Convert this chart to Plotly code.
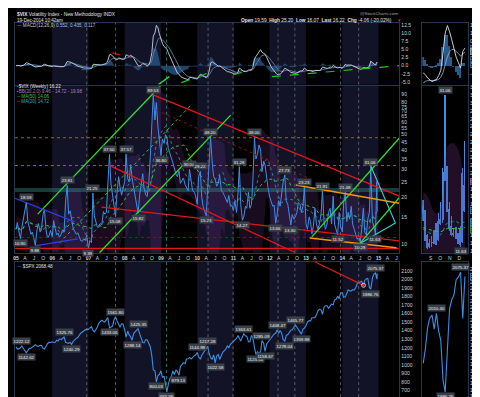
import numpy as np
import pandas as pd
import plotly.graph_objects as go

W, H = 480, 397

# ----------------------------- DATA -----------------------------
# $VIX (weekly bars) read at semi-monthly steps: 1st and 15th of each month
vix_2005 = [12.5, 13.8, 12.0, 10.90, 12.8, 14.2, 17.0, 18.59, 14.0, 12.6, 11.6, 12.0,
            11.0, 9.88, 12.4, 13.6, 12.0, 12.6, 15.6, 16.8, 12.2, 11.0, 11.4, 12.3]
vix_2006 = [11.2, 14.2, 12.6, 11.5, 11.8, 11.1, 11.6, 12.4, 12.0, 18.6, 23.81, 15.6,
            16.4, 14.2, 12.6, 12.2, 11.6, 11.9, 11.3, 10.6, 10.5, 10.9, 10.6, 11.5]
vix_2007 = [9.39, 10.6, 10.3, 21.25, 15.2, 14.0, 12.9, 13.1, 13.6, 13.3, 16.2, 15.6,
            16.0, 24.2, 37.50, 24.6, 20.2, 18.6, 15.08, 21.0, 27.0, 23.2, 20.6, 22.6]
vix_2008 = [25.2, 37.57, 26.2, 25.0, 32.2, 26.6, 22.6, 20.2, 17.2, 15.82, 21.0, 24.2,
            28.2, 22.6, 20.6, 20.2, 25.2, 36.2, 55.0, 89.53, 62.0, 80.0, 56.0, 44.0]
vix_2009 = [36.80, 47.0, 44.0, 50.0, 48.0, 41.0, 37.0, 35.5, 33.0, 30.0, 28.0, 27.0,
            29.5, 24.5, 25.5, 26.5, 24.0, 23.0, 22.0, 30.04, 24.0, 22.0, 21.5, 20.5]
vix_2010 = [18.0, 27.0, 29.22, 20.0, 17.5, 16.5, 15.23, 22.0, 35.0, 48.20, 33.0, 27.0,
            26.0, 23.5, 24.5, 27.5, 22.0, 21.5, 20.5, 19.5, 18.5, 20.5, 17.5, 17.8]
vix_2011 = [16.5, 19.0, 16.0, 21.0, 31.28, 18.0, 14.27, 15.0, 17.5, 17.0, 21.5, 17.0,
            18.0, 25.0, 48.00, 35.0, 38.0, 43.0, 40.0, 29.0, 34.0, 32.0, 26.0, 23.0]
vix_2012 = [20.0, 18.5, 17.5, 17.8, 13.66, 15.5, 19.0, 17.5, 22.0, 25.0, 27.73, 19.0,
            18.0, 16.0, 13.30, 15.5, 14.5, 15.0, 16.0, 18.5, 18.0, 16.0, 17.5, 23.23]
vix_2013 = [13.5, 12.5, 15.0, 14.0, 11.7, 13.0, 17.0, 13.5, 12.5, 13.5, 15.5, 21.91,
            14.0, 12.5, 13.5, 16.0, 17.0, 13.5, 20.3, 13.5, 12.5, 11.52, 16.0, 13.0]
vix_2014 = [12.0, 18.5, 21.48, 14.0, 16.0, 14.5, 17.5, 13.5, 12.5, 11.5, 10.8, 11.5,
            10.28, 12.5, 17.0, 12.0, 11.5, 14.5, 16.0, 31.06, 14.0, 13.0, 11.63, 25.20]
vix_last = 16.22

# $SPX weekly closes read at the same semi-monthly steps
spx_2005 = [1211.9, 1185.0, 1190.0, 1200.0, 1222.12, 1190.0, 1165.0, 1142.62, 1170.0, 1193.0, 1195.0, 1210.0,
            1225.0, 1235.0, 1220.0, 1215.0, 1230.0, 1227.0, 1195.0, 1186.0, 1220.0, 1250.0, 1265.0, 1260.0]
spx_2006 = [1270.0, 1262.0, 1265.0, 1288.0, 1280.0, 1305.0, 1297.0, 1311.0, 1325.76, 1265.0, 1255.0, 1251.0,
            1265.0, 1240.29, 1275.0, 1295.0, 1310.0, 1320.0, 1350.0, 1370.0, 1385.0, 1400.0, 1410.0, 1418.0]
spx_2007 = [1415.0, 1432.0, 1448.0, 1406.0, 1386.95, 1410.0, 1444.0, 1490.0, 1505.0, 1522.0, 1507.0, 1502.0,
            1530.0, 1553.0, 1433.06, 1445.94, 1454.0, 1525.0, 1561.80, 1520.0, 1480.0, 1440.0, 1481.0, 1478.0]
spx_2008 = [1411.0, 1325.0, 1395.0, 1350.0, 1330.0, 1288.14, 1370.0, 1390.0, 1413.0, 1425.35, 1360.0, 1318.0,
            1262.0, 1257.0, 1296.0, 1292.0, 1252.0, 1213.0, 1099.0, 940.0, 930.0, 800.03, 876.0, 887.0]
spx_2009 = [931.0, 850.0, 869.0, 770.0, 683.38, 768.0, 842.0, 866.0, 929.0, 887.0, 940.0, 921.0,
            879.13, 980.0, 1010.0, 1026.0, 1016.0, 1068.0, 1071.0, 1087.0, 1069.0, 1092.0, 1106.0, 1115.0]
spx_2010 = [1144.98, 1091.0, 1066.0, 1109.0, 1138.0, 1166.0, 1194.0, 1217.28, 1135.0, 1087.0, 1065.0, 1117.0,
            1022.58, 1102.0, 1121.0, 1064.0, 1110.0, 1148.0, 1166.0, 1183.0, 1225.0, 1199.0, 1240.0, 1257.0]
spx_2011 = [1271.0, 1286.0, 1310.0, 1343.0, 1304.0, 1279.0, 1328.0, 1363.61, 1340.0, 1333.0, 1271.0, 1268.0,
            1344.0, 1316.0, 1199.0, 1123.53, 1154.0, 1136.0, 1155.0, 1285.09, 1253.0, 1158.67, 1244.0, 1265.0]
spx_2012 = [1289.0, 1315.0, 1345.0, 1361.0, 1370.0, 1408.47, 1370.0, 1403.0, 1369.0, 1295.0, 1278.04, 1342.0,
            1355.0, 1386.0, 1405.0, 1411.0, 1438.0, 1465.77, 1440.0, 1412.0, 1380.0, 1359.88, 1418.0, 1430.0]
spx_2013 = [1461.0, 1502.0, 1518.0, 1515.0, 1551.0, 1556.0, 1553.0, 1582.0, 1633.0, 1650.0, 1643.0, 1592.0,
            1675.0, 1691.0, 1691.0, 1663.0, 1688.0, 1710.0, 1703.0, 1759.0, 1770.0, 1804.0, 1775.0, 1841.0]
spx_2014 = [1842.0, 1790.0, 1796.0, 1836.0, 1878.0, 1866.0, 1864.0, 1878.0, 1878.0, 1900.0, 1950.0, 1962.0,
            1968.0, 1978.0, 1925.0, 1988.0, 2007.0, 2010.40, 1906.0, 1886.76, 2018.0, 2063.0, 2075.37, 2002.33]
spx_last = 2068.48

semi_monthly = pd.date_range("2005-01-01", "2014-12-15", freq="SMS")
last_date = pd.Timestamp("2014-12-19")

# zoom panel: last 20 weekly bars (Aug 8 - Dec 19, 2014)
zoom_weeks = pd.date_range("2014-08-08", "2014-12-19", freq="W-FRI")
zoom_vix_open = [16.9, 15.7, 13.1, 11.6, 12.1, 12.3, 13.6, 12.5, 15.2, 15.0,
                 21.3, 21.9, 16.5, 14.3, 13.2, 13.4, 12.8, 14.0, 12.2, 19.59]
zoom_vix_high = [17.57, 16.3, 13.2, 12.6, 13.0, 13.8, 14.6, 16.0, 17.3, 21.7,
                 31.06, 22.0, 17.3, 15.5, 14.0, 14.1, 13.3, 14.3, 21.7, 25.20]
zoom_vix_low = [14.9, 12.4, 11.3, 11.4, 11.6, 11.9, 11.8, 12.3, 14.4, 14.6,
                20.0, 16.1, 13.6, 13.0, 12.8, 12.6, 11.9, 11.63, 12.1, 16.07]
zoom_vix_close = [15.77, 13.15, 11.47, 12.09, 12.09, 13.31, 12.11, 14.85, 14.55, 21.24,
                  21.99, 16.11, 14.03, 13.12, 13.31, 12.90, 13.33, 11.82, 21.08, 16.22]
zoom_ma50 = [14.0, 13.9, 13.8, 13.7, 13.6, 13.5, 13.5, 13.5, 13.5, 13.6,
             13.8, 13.9, 13.9, 13.9, 13.9, 13.9, 13.9, 13.9, 14.0, 14.06]
zoom_ma20 = [13.8, 13.7, 13.5, 13.3, 13.2, 13.1, 13.0, 13.0, 13.1, 13.5,
             14.3, 14.6, 14.7, 14.8, 14.8, 14.8, 14.7, 14.5, 14.7, 14.72]
zoom_bb_up = [18.5, 18.4, 18.0, 17.5, 16.5, 16.0, 15.8, 16.0, 16.5, 18.5,
              23.0, 24.5, 24.8, 24.9, 24.9, 24.5, 24.0, 23.0, 21.5, 19.98]
zoom_bb_lo = [10.0, 9.8, 9.5, 9.5, 9.6, 9.8, 10.0, 10.2, 10.2, 9.5,
              8.0, 7.5, 7.3, 7.3, 7.3, 7.5, 7.8, 8.5, 9.0, 9.46]
zoom_spx = [1931.59, 1955.06, 1988.40, 2003.37, 2007.71, 1985.54, 2010.40, 1982.85, 1967.90, 1906.13,
            1886.76, 1964.58, 2018.05, 2031.92, 2039.82, 2063.50, 2067.56, 2075.37, 2002.33, 2068.48]
zoom_macd = [-0.20, -0.25, -0.35, -0.42, -0.46, -0.42, -0.40, -0.28, -0.12, 0.40,
             1.00, 1.23, 1.05, 0.80, 0.50, 0.28, 0.12, -0.05, 0.45, 0.552]
zoom_signal = [-0.50, -0.45, -0.43, -0.43, -0.44, -0.43, -0.42, -0.39, -0.33, -0.19,
               0.05, 0.29, 0.44, 0.51, 0.51, 0.46, 0.39, 0.31, 0.36, 0.435]

# labelled highs / lows (date, above?)
vix_marks = [("2005-02-15", False), ("2005-04-15", True), ("2005-07-15", False), ("2006-06-01", True),
             ("2007-01-01", False), ("2007-02-15", True), ("2007-08-01", True), ("2007-10-01", False),
             ("2008-01-15", True), ("2008-05-15", False), ("2008-10-15", True), ("2009-01-01", False),
             ("2009-10-15", True), ("2010-02-01", True), ("2010-04-01", False), ("2010-05-15", True),
             ("2011-03-01", True), ("2011-04-01", False), ("2011-08-01", True), ("2012-03-01", False),
             ("2012-06-01", True), ("2012-08-01", False), ("2012-12-15", True), ("2013-06-15", True),
             ("2013-11-15", False), ("2014-02-01", True), ("2014-07-01", False), ("2014-10-15", True),
             ("2014-12-01", False)]
spx_marks = [("2005-03-01", True), ("2005-04-15", False), ("2006-05-01", True), ("2006-07-15", False),
             ("2007-08-01", False), ("2007-10-01", True), ("2008-03-15", False), ("2008-05-15", True),
             ("2008-11-15", False), ("2009-03-01", False), ("2009-07-01", False), ("2010-01-01", True),
             ("2010-04-15", True), ("2010-07-01", False), ("2011-04-15", True), ("2011-08-15", False),
             ("2011-10-15", True), ("2011-11-15", False), ("2012-03-15", True), ("2012-06-01", False),
             ("2012-09-15", True), ("2012-11-15", False), ("2014-10-15", False), ("2014-12-01", True)]
zoom_vix_marks = [(10, True), (17, False)]          # week index, above?
zoom_spx_marks = [(6, True), (10, False), (17, True)]

# hand-drawn trend lines on the VIX panel (date, value) -> (date, value), style
vix_trends = [
    ("2008-10-15", 89.5, "2015-07-30", 20.3, "red"),
    ("2007-07-31", 31.9, "2012-09-17", 8.86, "red"),
    ("2007-05-13", 17.3, "2015-07-30", 10.56, "red"),
    ("2004-12-22", 9.45, "2015-07-30", 9.45, "red"),
    ("2004-12-22", 11.1, "2015-07-30", 11.1, "reddot"),
    ("2008-11-15", 71.6, "2013-01-29", 26.4, "reddot"),
    ("2004-12-22", 47.8, "2015-07-30", 47.8, "orangedot"),
    ("2004-12-22", 31.8, "2015-07-30", 31.8, "orangedot"),
    ("2005-08-08", 15.6, "2008-12-25", 102.0, "green"),
    ("2006-03-17", 10.25, "2009-11-11", 78.6, "greendot"),
    ("2007-04-22", 8.86, "2010-12-04", 66.6, "green"),
    ("2013-02-28", 11.19, "2015-07-30", 47.6, "green"),
    ("2014-06-24", 10.1, "2015-07-30", 19.9, "green"),
    ("2012-09-20", 23.9, "2015-07-30", 18.28, "orange"),
    ("2013-02-08", 10.99, "2015-06-30", 9.53, "orange"),
    ("2004-12-22", 19.7, "2006-08-15", 13.92, "blue"),
    ("2005-07-10", 9.81, "2006-09-14", 10.86, "blue"),
]
vix_triangle = [("2014-10-12", 31.9), ("2015-06-20", 13.72), ("2014-06-24", 10.1)]
vix_band = (21.6, 22.9)
spx_trend = ("2013-03-28", 2207.0, "2014-08-03", 1931.0)
macd_trends = [
    ("2006-10-22", -1.22, "2007-03-22", -0.91, "bluedash"),
    ("2007-08-22", 3.96, "2008-03-17", 2.44, "reddash"),
    ("2009-07-24", -5.2, "2010-04-30", -2.13, "greendash"),
    ("2010-12-28", -2.74, "2011-06-06", -1.52, "greendash"),
    ("2012-01-22", -3.35, "2015-07-30", 0.0, "greendash"),
    ("2008-12-05", -5.8, "2009-03-25", -3.35, "green"),
]
marker_dates = ["2006-12-15", "2007-10-01", "2009-02-25", "2010-04-20", "2010-12-28",
                "2012-03-25", "2012-09-10", "2013-12-15", "2014-06-15"]
shade_years = [2006, 2008, 2010, 2012, 2014]

main_tick_dates = pd.date_range("2005-01-01", "2015-07-01", freq="QS")
main_tick_text = [f"<b>{d:%y}</b>" if d.month == 1 else "AJO"[(d.month - 4) // 3] for d in main_tick_dates]
zoom_tick_dates = ["2014-09-01", "2014-10-01", "2014-11-01", "2014-12-01"]
zoom_tick_text = ["S", "O", "N", "D"]

# ----------------------------- SERIES -----------------------------
dates = list(semi_monthly) + [last_date]
vix = pd.Series(vix_2005 + vix_2006 + vix_2007 + vix_2008 + vix_2009 + vix_2010 +
                vix_2011 + vix_2012 + vix_2013 + vix_2014 + [vix_last], index=dates)
spx = pd.Series(spx_2005 + spx_2006 + spx_2007 + spx_2008 + spx_2009 + spx_2010 +
                spx_2011 + spx_2012 + spx_2013 + spx_2014 + [spx_last], index=dates)

ma50 = vix.rolling(23, min_periods=1).mean()
ma20 = vix.rolling(10, min_periods=1).mean()
sd20 = vix.rolling(10, min_periods=2).std().bfill()
bb_up = ma20 + 2 * sd20
bb_lo = (ma20 - 2 * sd20).clip(lower=5)
macd = vix.ewm(span=10, adjust=False).mean() - vix.ewm(span=21, adjust=False).mean()
signal = macd.ewm(span=7, adjust=False).mean()
hist = macd - signal
zoom_hist = [m - s for m, s in zip(zoom_macd, zoom_signal)]
zoom_body_base = [min(o, c) for o, c in zip(zoom_vix_open, zoom_vix_close)]
zoom_body_len = [abs(c - o) for o, c in zip(zoom_vix_open, zoom_vix_close)]
zoom_wick_len = [h - l for h, l in zip(zoom_vix_high, zoom_vix_low)]

# ----------------------------- STYLE -----------------------------
FONT = "Liberation Sans"
BORDER = "#243650"
SHADE = "#131328"
BLUE = "#3d8ee6"
TICK = "#cfd3d8"
DAY = 86400000
STY = {
    "red": dict(color="#e3161b", width=1.3),
    "reddot": dict(color="#8a1010", width=1, dash="dot"),
    "orangedot": dict(color="#a8701c", width=0.9, dash="dot"),
    "green": dict(color="#2fe02f", width=1.3),
    "greendot": dict(color="#2fc02f", width=1, dash="dot"),
    "orange": dict(color="#f0960f", width=1.5),
    "blue": dict(color="#2a3fe8", width=1.3),
    "bluedash": dict(color="#2a3fe8", width=1.2, dash="dash"),
    "reddash": dict(color="#c01818", width=1.2, dash="dash"),
    "greendash": dict(color="#22c022", width=1.2, dash="dash"),
}

XMAIN = ["2004-12-22", "2015-07-30"]
XZOOM = ["2014-08-05", "2014-12-29"]
ROWS = {"macd": (14, 76), "vix": (77, 245), "spx": (254, 396)}


def ydom(r):
    top, bot = ROWS[r]
    return [1 - bot / H, 1 - top / H]


fig = go.Figure()


def line(x, y, xa, ya, **kw):
    fig.add_trace(go.Scatter(x=x, y=y, xaxis=xa, yaxis=ya, mode="lines", hoverinfo="skip", **kw))


# ---- main MACD ----
line(dates, hist, "x", "y", line=dict(width=0), fill="tozeroy", fillcolor="rgba(40,80,125,0.85)")
line(dates, signal, "x", "y", line=dict(color="#5d7fa6", width=0.9))
line(dates, macd, "x", "y", line=dict(color="#c9d6e3", width=0.9))
for d0, v0, d1, v1, s in macd_trends:
    line([d0, d1], [v0, v1], "x", "y", line=STY[s])

# ---- main VIX ----
line(dates, bb_lo, "x2", "y2", line=dict(width=0))
line(dates, bb_up, "x2", "y2", line=dict(width=0), fill="tonexty", fillcolor="rgba(115,55,140,0.22)")
line([XMAIN[0], XMAIN[1], XMAIN[1], XMAIN[0]], [vix_band[0], vix_band[0], vix_band[1], vix_band[1]],
     "x2", "y2", line=dict(width=0), fill="toself", fillcolor="rgba(50,130,130,0.45)")
line(dates, ma20, "x2", "y2", line=dict(color="#2aa6a6", width=0.8, dash="dot"))
line(dates, ma50, "x2", "y2", line=dict(color="#32c832", width=1, dash="dot"))
line(dates, vix, "x2", "y2", line=dict(color=BLUE, width=1))
for d0, v0, d1, v1, s in vix_trends:
    line([d0, d1], [v0, v1], "x2", "y2", line=STY[s])
line([p[0] for p in vix_triangle], [p[1] for p in vix_triangle], "x2", "y2",
     line=dict(color="#35d0d0", width=1.1))

# ---- main SPX ----
line(dates, spx, "x3", "y3", line=dict(color=BLUE, width=1.1))
fig.add_trace(go.Scatter(x=[spx_trend[0], spx_trend[2]], y=[spx_trend[1], spx_trend[3]], xaxis="x3", yaxis="y3",
                         mode="lines+markers", line=dict(color="#e3161b", width=1.3),
                         marker=dict(size=[0, 4], color="#e3161b"), hoverinfo="skip"))

# ---- zoom MACD ----
fig.add_trace(go.Bar(x=zoom_weeks, y=zoom_hist, xaxis="x4", yaxis="y4", width=5 * DAY,
                     marker=dict(color="#2a5a8a", line=dict(width=0)), hoverinfo="skip"))
line(zoom_weeks, zoom_signal, "x4", "y4", line=dict(color="#8aa0b8", width=0.9))
line(zoom_weeks, zoom_macd, "x4", "y4", line=dict(color="#d8e2ec", width=0.9))

# ---- zoom VIX ----
line(zoom_weeks, zoom_bb_lo, "x5", "y5", line=dict(width=0))
line(zoom_weeks, zoom_bb_up, "x5", "y5", line=dict(width=0), fill="tonexty", fillcolor="rgba(115,55,140,0.28)")
line(zoom_weeks, zoom_ma20, "x5", "y5", line=dict(color="#2aa6a6", width=0.8, dash="dot"))
line(zoom_weeks, zoom_ma50, "x5", "y5", line=dict(color="#32c832", width=1, dash="dot"))
fig.add_trace(go.Bar(x=zoom_weeks, y=zoom_wick_len, base=zoom_vix_low, xaxis="x5", yaxis="y5",
                     width=1.2 * DAY, marker=dict(color=BLUE, line=dict(width=0)), hoverinfo="skip"))
fig.add_trace(go.Bar(x=zoom_weeks, y=zoom_body_len, base=zoom_body_base, xaxis="x5", yaxis="y5",
                     width=4.5 * DAY, marker=dict(color=BLUE, line=dict(width=0)), hoverinfo="skip"))

# ---- zoom SPX ----
line(zoom_weeks, zoom_spx, "x6", "y6", line=dict(color=BLUE, width=1.1))

# ----------------------------- SHAPES -----------------------------
shapes = []
for xa, ya in [("x", "y"), ("x2", "y2"), ("x3", "y3")]:
    for yr in shade_years:
        shapes.append(dict(type="rect", xref=xa, yref=f"{ya} domain", x0=f"{yr}-01-01", x1=f"{yr + 1}-01-01",
                           y0=0, y1=1, fillcolor=SHADE, line=dict(width=0), layer="below"))
    for d in marker_dates:
        col = "#28a898" if d.startswith("2009") else "#7a7a7a"
        shapes.append(dict(type="line", xref=xa, yref=f"{ya} domain", x0=d, x1=d, y0=0, y1=1,
                           line=dict(color=col, width=0.7, dash="dot"), layer="above"))

# ----------------------------- ANNOTATIONS -----------------------------
ann = []


def ptext(xpx, ypx, text, color="#e6e6e6", size=4.8, xanchor="left"):
    ann.append(dict(xref="paper", yref="paper", x=xpx / W, y=1 - ypx / H, text=text, showarrow=False,
                    xanchor=xanchor, yanchor="middle", font=dict(family=FONT, size=size, color=color)))


def mark(xa, ya, x, v, above, log=False):
    ann.append(dict(xref=xa, yref=ya, x=x, y=(np.log10(v) if log else v), text=f"{v:.2f}", showarrow=False,
                    yshift=5 if above else -4.5, xanchor="center", yanchor="middle",
                    bgcolor="#3a4049", borderpad=0.5,
                    font=dict(family=FONT, size=4.4, color="#f2f2f2")))


def box(ya, v, text, bg, border, color="#ffffff"):
    ann.append(dict(xref="paper", yref=ya, x=461.5 / W, y=v, text=text, showarrow=False, xanchor="left",
                    yanchor="middle", bgcolor=bg, bordercolor=border, borderwidth=0.6, borderpad=0.4,
                    font=dict(family=FONT, size=4.4, color=color)))


ptext(5, 5.5, "<b>$VIX</b> Volatility Index - New Methodology INDX", size=4.8)
ptext(5, 11.5, "19-Dec-2014 10:42am", size=4.6)
ptext(392, 5, "@StockCharts.com", color="#a8a8a8", size=4.4, xanchor="right")
ptext(386, 11.5, "<b>Open</b> 19.59  <b>High</b> 25.20  <b>Low</b> 16.07  <b>Last</b> 16.22  "
                 "<b>Chg</b> -4.06 (-20.02%)", size=4.8, xanchor="right")
ptext(387, 11.5, "▼", color="#e02020", size=4.4)
ptext(5, 17, "<span style='color:#7fa7d8'>—</span> MACD(12,26,9) "
             "<span style='color:#9cc0ea'>0.552, 0.435, 0.117</span>", color="#c8c8c8", size=4.6)
ptext(5, 77.5, "<span style='color:#3d8ee6'>▪</span>$VIX (Weekly) 16.22", size=4.6)
ptext(5, 82.5, "<span style='color:#b07cc6'>▪BB(20,2.0) 9.46 - 14.72 - 19.98</span>", size=4.6)
ptext(5, 87.5, "<span style='color:#32c832'>-- MA(50) 14.06</span>", size=4.6)
ptext(5, 92.5, "<span style='color:#2ab0b0'>-- MA(20) 14.72</span>", size=4.6)
ptext(5, 259, "<span style='color:#3d8ee6'>—</span> $SPX 2068.48", size=4.6)

for d, above in vix_marks:
    mark("x2", "y2", d, vix.loc[pd.Timestamp(d)], above, log=True)
for d, above in spx_marks:
    mark("x3", "y3", d, spx.loc[pd.Timestamp(d)], above)
for i, above in zoom_vix_marks:
    mark("x5", "y5", zoom_weeks[i], zoom_vix_high[i] if above else zoom_vix_low[i], above)
for i, above in zoom_spx_marks:
    mark("x6", "y6", zoom_weeks[i], zoom_spx[i], above)

box("y4", zoom_macd[-1], f"{zoom_macd[-1]:.3f}", "#0a1a2c", "#4a8ad0")
box("y4", zoom_signal[-1], f"{zoom_signal[-1]:.3f}", "#7f8fa0", "#9fb0c0", "#101010")
box("y4", zoom_hist[-1], f"{zoom_hist[-1]:.3f}", "#0a1a2c", "#3a78b8")
box("y5", zoom_bb_up[-1], f"{zoom_bb_up[-1]:.2f}", "#5a2e78", "#9b62c0")
box("y5", zoom_vix_close[-1], f"{zoom_vix_close[-1]:.2f}", "#0a1a2c", "#4a9ae8")
box("y5", zoom_ma20[-1], f"{zoom_ma20[-1]:.2f}", "#1f4e62", "#3a9ab0")
box("y5", zoom_ma50[-1] - 0.35, f"{zoom_ma50[-1]:.2f}", "#1c4a1c", "#32b032")
box("y6", zoom_spx[-1], f"{zoom_spx[-1]:.2f}", "#0a1a2c", "#4a9ae8")

# ----------------------------- AXES -----------------------------
common = dict(showgrid=False, zeroline=False, showline=True, linecolor=BORDER, linewidth=1, mirror=True,
              ticks="", fixedrange=True, tickfont=dict(family=FONT, size=5, color=TICK))


def xax(domain, rng, anchor, tv=None, tt=None):
    d = dict(common, domain=domain, range=rng, type="date", anchor=anchor)
    if tv is not None:
        d.update(tickmode="array", tickvals=list(tv), ticktext=tt, showticklabels=True)
    else:
        d.update(showticklabels=False)
    return d


def yax(row, rng, anchor, tv, tt, typ="linear"):
    return dict(common, domain=ydom(row), range=rng, anchor=anchor, side="right", type=typ,
                tickmode="array", tickvals=tv, ticktext=tt)


MX = [5 / W, 391 / W]
ZX = [414 / W, 460 / W]

macd_ticks = [-5.0, -2.5, 0.0, 2.5, 5.0, 7.5, 10.0, 12.5]
vix_ticks = [10, 15, 20, 25, 30, 35, 40, 45, 50, 55, 60, 65, 70, 75, 80, 90]
spx_ticks = list(range(600, 2101, 100))
zmacd_ticks = [-0.25, 0.0, 0.25, 0.5, 0.75, 1.0, 1.25]
zvix_ticks = list(range(11, 33))
zspx_ticks = list(range(1880, 2081, 10))

fig.update_layout(
    width=W, height=H, margin=dict(l=0, r=0, t=0, b=0),
    paper_bgcolor="#000000", plot_bgcolor="#000000", showlegend=False,
    font=dict(family=FONT, size=5, color=TICK),
    xaxis=xax(MX, XMAIN, "y"),
    xaxis2=xax(MX, XMAIN, "y2", main_tick_dates, main_tick_text),
    xaxis3=xax(MX, XMAIN, "y3"),
    xaxis4=xax(ZX, XZOOM, "y4"),
    xaxis5=xax(ZX, XZOOM, "y5", zoom_tick_dates, zoom_tick_text),
    xaxis6=xax(ZX, XZOOM, "y6"),
    yaxis=yax("macd", [-5.8, 13.1], "x", macd_ticks, [f"{t:.1f}" for t in macd_ticks]),
    yaxis2=yax("vix", [0.9475, 2.011], "x2", vix_ticks, [str(t) for t in vix_ticks], typ="log"),
    yaxis3=yax("spx", [554, 2207], "x3", spx_ticks, [str(t) for t in spx_ticks]),
    yaxis4=yax("macd", [-0.55, 1.31], "x4", zmacd_ticks, [f"{t:.2f}" for t in zmacd_ticks]),
    yaxis5=yax("vix", [10.78, 32.26], "x5", zvix_ticks, [str(t) for t in zvix_ticks]),
    yaxis6=yax("spx", [1869.2, 2091.9], "x6", zspx_ticks, [str(t) for t in zspx_ticks]),
    shapes=shapes, annotations=ann, bargap=0, barmode="overlay",
)

fig.write_html("out.html")
